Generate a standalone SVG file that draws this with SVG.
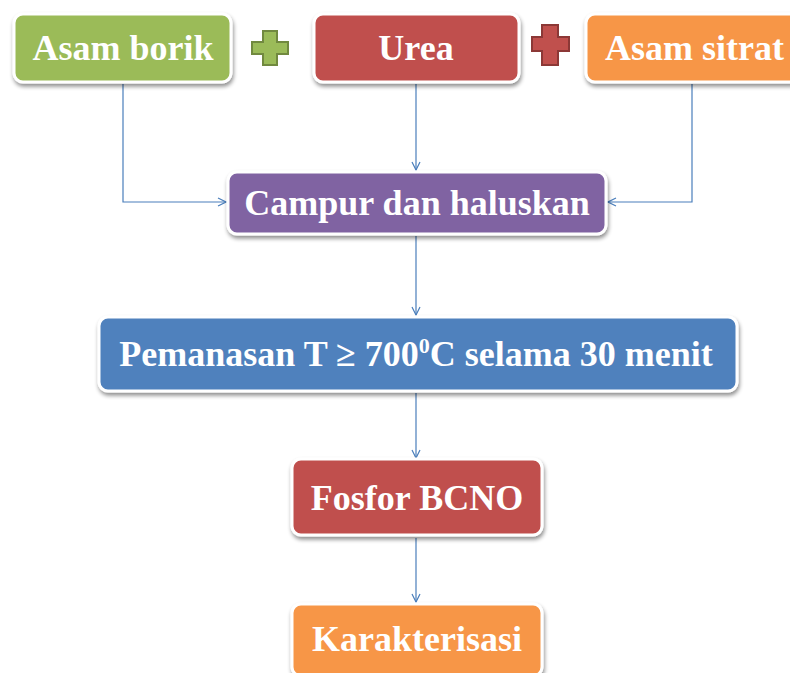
<svg xmlns="http://www.w3.org/2000/svg" width="790" height="673" viewBox="0 0 790 673">
<style>
.box{stroke:#ffffff;stroke-width:3;filter:url(#sh)}
.t{font-family:"Liberation Serif","Times New Roman",serif;font-weight:bold;font-size:36px;fill:#ffffff;text-anchor:middle}
.c{fill:none;stroke:#4A7EBB;stroke-width:1.2;marker-end:url(#ah)}
</style>
<defs>
<filter id="sh" x="-10%" y="-20%" width="120%" height="150%">
<feGaussianBlur in="SourceAlpha" stdDeviation="2"/>
<feOffset dx="1" dy="3" result="b"/>
<feComponentTransfer><feFuncA type="linear" slope="0.45"/></feComponentTransfer>
<feMerge><feMergeNode/><feMergeNode in="SourceGraphic"/></feMerge>
</filter>
<marker id="ah" viewBox="0 0 10 10" refX="9" refY="5" markerWidth="10" markerHeight="10" markerUnits="userSpaceOnUse" orient="auto">
<path d="M1 1 L9 5 L1 9" fill="none" stroke="#4A7EBB" stroke-width="1.2"/>
</marker>
</defs>
<rect width="790" height="673" fill="#ffffff"/>
<g id="connectors">
<path class="c" d="M123 84 V202 H226"/>
<path class="c" d="M416 84 V170"/>
<path class="c" d="M692 84 V202 H608"/>
<path class="c" d="M416 236 V315"/>
<path class="c" d="M416 393 V458"/>
<path class="c" d="M416 538 V602"/>
</g>
<g id="asam-borik">
<rect class="box" x="14" y="14" width="217" height="68" rx="9" fill="#9BBB59"/>
<text class="t" x="123" y="60">Asam borik</text>
</g>
<g id="plus-green">
<path d="M263 31 H277 V42 H288 V54 H277 V65 H263 V54 H252 V42 H263 Z" fill="#9BBB59" stroke="#71893F" stroke-width="2"/>
</g>
<g id="urea">
<rect class="box" x="314" y="14" width="205" height="68" rx="9" fill="#C0504D"/>
<text class="t" x="416" y="60">Urea</text>
</g>
<g id="plus-red">
<path d="M542 25 H558 V37 H569 V51 H558 V65 H542 V51 H532 V37 H542 Z" fill="#C0504D" stroke="#8C3836" stroke-width="2"/>
</g>
<g id="asam-sitrat">
<rect class="box" x="586" y="14" width="222" height="68" rx="9" fill="#F79646"/>
<text class="t" x="605" y="60" style="text-anchor:start">Asam sitrat</text>
</g>
<g id="campur">
<rect class="box" x="228" y="172" width="378" height="62" rx="9" fill="#8064A2"/>
<text class="t" x="417" y="215">Campur dan haluskan</text>
</g>
<g id="pemanasan">
<rect class="box" x="99" y="317" width="638" height="74" rx="9" fill="#4F81BD"/>
<text class="t" x="416" y="366">Pemanasan T ≥ 700<tspan font-size="22" dy="-13">0</tspan><tspan dy="13">C selama 30 menit</tspan></text>
</g>
<g id="fosfor">
<rect class="box" x="292" y="459" width="250" height="76" rx="9" fill="#C0504D"/>
<text class="t" x="417" y="510">Fosfor BCNO</text>
</g>
<g id="karakterisasi">
<rect class="box" x="292" y="604" width="250" height="72" rx="9" fill="#F79646"/>
<text class="t" x="417" y="651">Karakterisasi</text>
</g>
</svg>
